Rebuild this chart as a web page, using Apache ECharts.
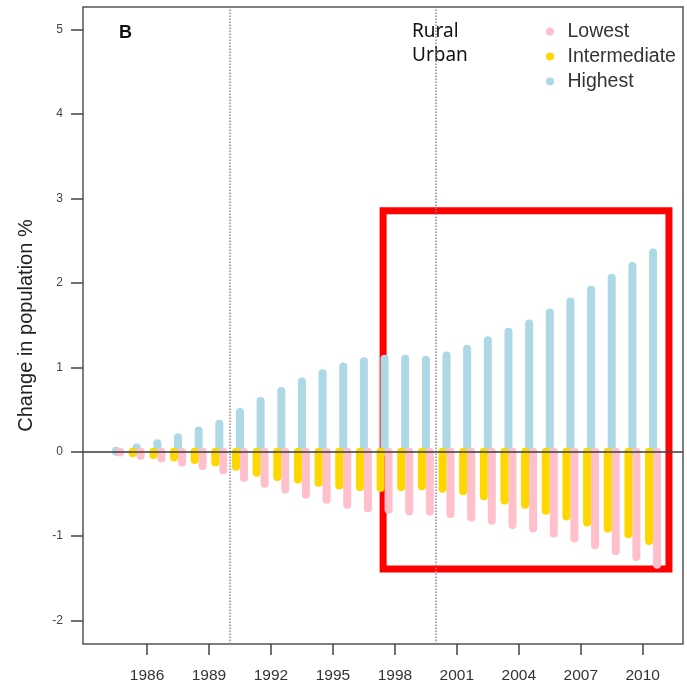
<!DOCTYPE html>
<html>
<head>
<meta charset="utf-8">
<script src="https://cdn.jsdelivr.net/npm/echarts@6/dist/echarts.min.js"></script>
<style>
  html, body { margin: 0; padding: 0; background: #fff; }
  #chart { width: 687px; height: 684px; }
</style>
</head>
<body>
<div id="chart"></div>
<script>
// ---- data ----
const years = [1984, 1985, 1986, 1987, 1988, 1989, 1990, 1991, 1992, 1993, 1994, 1995, 1996, 1997,
               1998, 1999, 2000, 2001, 2002, 2003, 2004, 2005, 2006, 2007, 2008, 2009, 2010];
const lowest = [-0.01, -0.05, -0.08, -0.13, -0.17, -0.22, -0.31, -0.38, -0.45, -0.51, -0.57, -0.63, -0.67, -0.69,
                -0.71, -0.71, -0.74, -0.78, -0.82, -0.87, -0.91, -0.97, -1.03, -1.11, -1.18, -1.25, -1.34];
const intermediate = [0.00, -0.02, -0.04, -0.07, -0.10, -0.13, -0.18, -0.25, -0.30, -0.33, -0.37, -0.40, -0.42, -0.43,
                      -0.42, -0.41, -0.44, -0.47, -0.53, -0.58, -0.63, -0.70, -0.77, -0.84, -0.91, -0.98, -1.06];
const highest = [0.01, 0.05, 0.10, 0.17, 0.25, 0.33, 0.47, 0.60, 0.72, 0.83, 0.93, 1.01, 1.07, 1.10,
                 1.10, 1.09, 1.14, 1.22, 1.32, 1.42, 1.52, 1.65, 1.78, 1.92, 2.06, 2.20, 2.36];
const xTicks = [1986, 1989, 1992, 1995, 1998, 2001, 2004, 2007, 2010];
const yTicks = [-2, -1, 0, 1, 2, 3, 4, 5];
const periodLines = [1990, 2000];
const seriesNames = ['Lowest', 'Intermediate', 'Highest'];
const areaLabels = ['Rural', 'Urban'];
const highlightBox = [[1997.43, 2.854], [2011.27, -1.392]];

// ---- styling ----
const colors = { Lowest: '#FFC0CB', Intermediate: '#FFD700', Highest: '#ADD8E6' };
const MID = 0.5; // bars are centred mid-year
const BAR_W = 8;

function pairs(vals) { return years.map((y, i) => [y + MID, vals[i]]); }

function makeRender(offsetPx) {
  return function (params, api) {
    const x = api.value(0), v = api.value(1);
    const p0 = api.coord([x, 0]);
    const p1 = api.coord([x, v]);
    return {
      type: 'line',
      shape: { x1: p0[0] + offsetPx, y1: p0[1], x2: p1[0] + offsetPx, y2: p1[1] },
      style: { stroke: api.visual('color'), lineWidth: BAR_W, lineCap: 'round' }
    };
  };
}

const chart = echarts.init(document.getElementById('chart'), null, { renderer: 'canvas' });

const option = {
  backgroundColor: '#fff',
  animation: false,
  textStyle: { fontFamily: 'Liberation Sans, Arial, sans-serif' },
  grid: {
    left: 83, right: 4, top: 7, bottom: 40,
    show: true, borderColor: '#555', borderWidth: 1.5, backgroundColor: 'transparent'
  },
  legend: {
    data: seriesNames,
    orient: 'vertical',
    left: 546, top: 21.5, padding: 0,
    itemWidth: 25, itemHeight: 8, itemGap: 5,
    icon: 'circle',
    textStyle: { fontSize: 19.5, color: '#333', lineHeight: 19.5, fontFamily: 'Liberation Sans, Arial, sans-serif' }
  },
  xAxis: {
    type: 'value',
    min: 1982.9, max: 2011.95,
    axisLine: { show: false, onZero: false },
    splitLine: { show: false },
    axisTick: { show: true, customValues: xTicks, length: 11, lineStyle: { color: '#444', width: 1.5 } },
    axisLabel: { customValues: xTicks, fontSize: 15.5, color: '#333', margin: 24,
                 formatter: v => String(v) }
  },
  yAxis: {
    type: 'value',
    min: -2.28, max: 5.27,
    name: 'Change in population %',
    nameLocation: 'middle',
    nameGap: 47,
    nameTextStyle: { fontSize: 20, color: '#222' },
    axisLine: { show: false, onZero: false },
    splitLine: { show: false },
    axisTick: { show: true, customValues: yTicks, length: 12, lineStyle: { color: '#444', width: 1.5 } },
    axisLabel: { customValues: yTicks, fontSize: 12, color: '#444', margin: 20,
                 formatter: v => String(v) }
  },
  graphic: [
    { type: 'text', left: 119, top: 24, style: { text: 'B', font: 'bold 18px "Liberation Sans", Arial, sans-serif', fill: '#111' } },
    { type: 'text', left: 412, top: 19, style: { text: areaLabels.join('\n'), font: '19px "Noto Sans", sans-serif', fill: '#111', lineHeight: 24.5 } }
  ],
  series: [
    {
      name: 'Highest', type: 'custom', z: 2,
      itemStyle: { color: colors.Highest },
      renderItem: makeRender(0),
      encode: { x: 0, y: 1 },
      data: pairs(highest),
      markLine: {
        silent: true, symbol: 'none', label: { show: false }, z: 1,
        lineStyle: { type: 'dotted', color: '#888', width: 1.5 },
        data: periodLines.map(v => ({ xAxis: v }))
      }
    },
    {
      name: 'Lowest', type: 'custom', z: 3,
      itemStyle: { color: colors.Lowest },
      renderItem: makeRender(BAR_W / 2),
      encode: { x: 0, y: 1 },
      data: pairs(lowest)
    },
    {
      name: 'Intermediate', type: 'custom', z: 4,
      itemStyle: { color: colors.Intermediate },
      renderItem: makeRender(-BAR_W / 2),
      encode: { x: 0, y: 1 },
      data: pairs(intermediate)
    },
    {
      name: 'zero', type: 'line', z: 6, data: [], silent: true,
      markLine: {
        silent: true, symbol: 'none', label: { show: false },
        lineStyle: { type: 'solid', color: 'rgba(70,70,70,0.8)', width: 2 },
        data: [{ yAxis: 0 }]
      }
    },
    {
      name: 'box', type: 'line', z: 8, data: [], silent: true,
      markArea: {
        silent: true, label: { show: false },
        itemStyle: { color: 'rgba(0,0,0,0)', borderColor: '#FF0000', borderWidth: 7 },
        data: [[{ coord: highlightBox[0] }, { coord: highlightBox[1] }]]
      }
    }
  ]
};

chart.setOption(option);
</script>
</body>
</html>
